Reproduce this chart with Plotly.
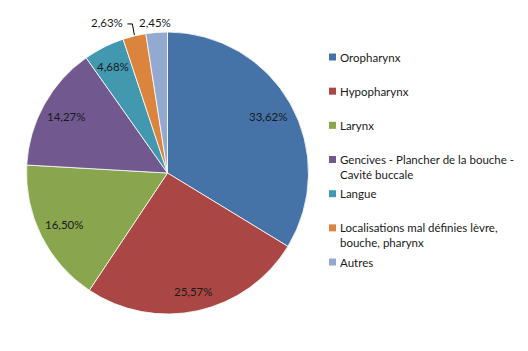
import math
import plotly.graph_objects as go

labels = ["Oropharynx", "Hypopharynx", "Larynx",
          "Gencives - Plancher de la bouche -<br>Cavité buccale", "Langue",
          "Localisations mal définies lèvre,<br>bouche, pharynx", "Autres"]
values = [33.62, 25.57, 16.50, 14.27, 4.68, 2.63, 2.45]
value_text = ["33,62%", "25,57%", "16,50%", "14,27%", "4,68%", "2,63%", "2,45%"]
colors = ["#4572A7", "#AA4643", "#89A54E", "#71588F", "#4198AF", "#DB843D", "#93A9CF"]

W, H = 528, 351
FONT = "Lato, 'Liberation Sans', sans-serif"
TXT = "#1a1a1a"
FS = 11.5

# pie geometry in pixels
CX, CY, R = 167.5, 173.0, 141.0

fig = go.Figure(go.Pie(
    labels=labels, values=values, text=value_text,
    textinfo="none",
    sort=False, direction="clockwise", rotation=0,
    marker=dict(colors=colors, line=dict(color="white", width=0.8)),
    domain=dict(x=[(CX - R) / W, (CX + R) / W], y=[1 - (CY + R) / H, 1 - (CY - R) / H]),
    automargin=False, showlegend=False, hoverinfo="label+text",
))

def px(x):
    return x / W

def py(y):
    return 1 - y / H

shapes, annotations = [], []

# data labels placed from slice angles
inside_r = [0.82, 0.86, 0.82, 0.82, 0.85]
total = sum(values)
cum = 0.0
for i, (v, t) in enumerate(zip(values, value_text)):
    mid = (cum + v / 2) / total * 2 * math.pi
    cum += v
    ex, ey = CX + R * math.sin(mid), CY - R * math.cos(mid)
    if i < 5:
        r = inside_r[i] * R
        x, y = CX + r * math.sin(mid), CY - r * math.cos(mid)
        annotations.append(dict(text=t, x=px(x), y=py(y), xref="paper", yref="paper",
                                showarrow=False, xanchor="center", yanchor="middle",
                                font=dict(family=FONT, size=FS, color=TXT)))
    elif i == 5:
        lx, ly = ex - 27, ey - 13
        annotations.append(dict(text=t, x=px(lx), y=py(ly), xref="paper", yref="paper",
                                showarrow=False, xanchor="center", yanchor="middle",
                                font=dict(family=FONT, size=FS, color=TXT)))
        path = "M {} {} L {} {} L {} {}".format(
            px(lx + 20), py(ly + 1), px(ex - 2), py(ly + 1), px(ex), py(ey - 1))
        shapes.append(dict(type="path", path=path, xref="paper", yref="paper",
                           line=dict(color="#000000", width=1)))
    else:
        lx, ly = ex - 2, ey - 9.5
        annotations.append(dict(text=t, x=px(lx), y=py(ly), xref="paper", yref="paper",
                                showarrow=False, xanchor="center", yanchor="middle",
                                font=dict(family=FONT, size=FS, color=TXT)))

# manual legend (Excel-style spacing)
leg_x, leg_y0, leg_step, sq = 329, 57, 34.17, 7
for i, (lab, col) in enumerate(zip(labels, colors)):
    yc = leg_y0 + i * leg_step
    shapes.append(dict(type="rect", xref="paper", yref="paper",
                       x0=px(leg_x), x1=px(leg_x + sq),
                       y0=py(yc + sq / 2), y1=py(yc - sq / 2),
                       fillcolor=col, line=dict(width=0)))
    annotations.append(dict(text=lab, xref="paper", yref="paper",
                            x=px(leg_x + sq + 2), y=py(yc - 8.5),
                            xanchor="left", yanchor="top", align="left",
                            showarrow=False,
                            font=dict(family=FONT, size=FS, color=TXT)))

fig.update_layout(width=W, height=H, margin=dict(l=0, r=0, t=0, b=0),
                  paper_bgcolor="white", plot_bgcolor="white",
                  shapes=shapes, annotations=annotations)
fig.write_html("out.html")
